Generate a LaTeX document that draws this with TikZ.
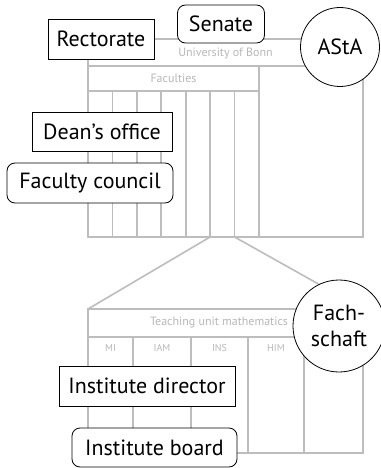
\documentclass[tikz,border=0pt]{standalone}
\usepackage{fontspec}
\setmainfont{PT Sans}
\begin{document}
\begin{tikzpicture}[x=1pt,y=-1pt,
  grid/.style={draw=black!26, line width=1.6pt},
  lbl/.style={text=black!28, font=\fontsize{12}{14}\selectfont, inner sep=0pt},
  clbl/.style={text=black!28, font=\fontsize{10}{12}\selectfont, inner sep=0pt},
  org/.style={draw=black, line width=0.8pt, fill=white, inner sep=0pt,
    font=\fontsize{22}{25}\selectfont},
  sharp/.style={org, rectangle},
  round/.style={org, rectangle, rounded corners=8pt},
  circ/.style={org, circle, align=center, font=\fontsize{22}{26}\selectfont}]
\useasboundingbox (0,0) rectangle (380,468);
\fill[white] (0,0) rectangle (380,468);
% University structure
\draw[grid] (88,39) rectangle (363,237);
\draw[grid] (88,66) -- (363,66);
\draw[grid] (88,66) rectangle (259,237);
\draw[grid] (88,91) -- (259,91);
\foreach \i in {1,...,6} {
  \draw[grid] ({88+\i*24.43},91) -- ({88+\i*24.43},237);
}
\node[lbl] (uni) at (225.5,53) {University of Bonn};
\node[lbl] (fac) at (173.5,78.5) {Faculties};
% zoom lines
\coordinate (zl1) at (210.1,237);
\coordinate (zl2) at (234.6,237);
\coordinate (zr1) at (88,309);
\coordinate (zr2) at (363,309);
\draw[grid] (zl1) -- (zr1);
\draw[grid] (zl2) -- (zr2);
% Teaching unit
\draw[grid] (88,309) rectangle (363,453);
\draw[grid] (88,337) -- (363,337);
\foreach \x in {133,191,248,304} {
  \draw[grid] (\x,337) -- (\x,453);
}
\node[lbl] (tu) at (219,323) {Teaching unit mathematics};
\node[clbl] (mi) at (110.5,348) {MI};
\node[clbl] (iam) at (162,348) {IAM};
\node[clbl] (ins) at (219.5,348) {INS};
\node[clbl] (him) at (276,348) {HIM};
% Organs
\node[sharp, minimum width=106pt, minimum height=40pt] (rect) at (101,39) {Rectorate};
\node[round, minimum width=87pt, minimum height=38pt] (senate) at (221,24) {Senate};
\node[circ, minimum size=79pt] (asta) at (340,47) {AStA};
\node[sharp, minimum width=140pt, minimum height=39pt] (dean) at (102,131.5) {Dean’s office};
\node[round, minimum width=166pt, minimum height=40pt] (fc) at (90,183) {Faculty council};
\node[circ, minimum size=92pt] (fs) at (339,326) {Fach-\\schaft};
\node[sharp, minimum width=176pt, minimum height=40pt] (idir) at (147,386) {Institute director};
\node[round, minimum width=165pt, minimum height=39pt] (ib) at (154.5,447.5) {Institute board};
\end{tikzpicture}
\end{document}
